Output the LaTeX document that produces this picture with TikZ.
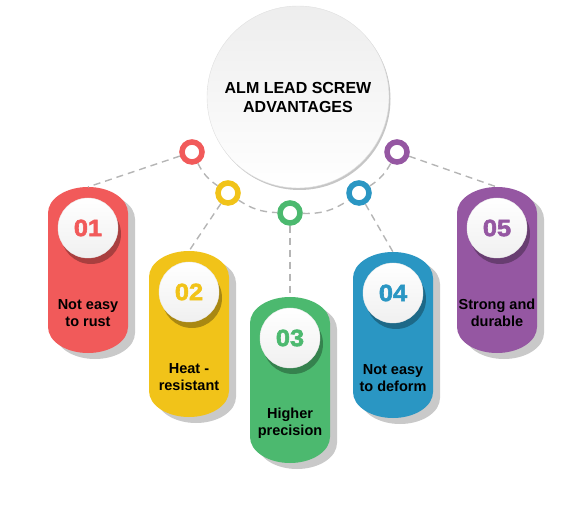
\documentclass[tikz,border=0pt]{standalone}
\usepackage{fontspec}
\setmainfont{Liberation Sans}
\newfontfamily\numfont{Liberation Sans}[BoldFeatures={FakeBold=2.5,FakeStretch=1.08}]
\usepackage{tikz}
\usetikzlibrary{positioning}

\definecolor{cardred}{HTML}{F15A5A}
\definecolor{cardyellow}{HTML}{F1C319}
\definecolor{cardgreen}{HTML}{4CB96F}
\definecolor{cardblue}{HTML}{2A96C3}
\definecolor{cardpurple}{HTML}{9557A2}
\definecolor{cardshadow}{HTML}{C9C9C9}
\definecolor{linkgray}{HTML}{B5B5B5}

% outline of one card: centre x, top y
\newcommand{\cardshape}[2]{({#1-40},{#2-26}) arc[start angle=180,end angle=0,x radius=40,y radius=26] -- ({#1+40},{#2-140}) arc[start angle=0,end angle=-180,x radius=40,y radius=26] -- cycle}

% card: name, centre x, top y, colour, number, text
\newcommand{\card}[6]{%
    \node[cardbox] (#1) at (#2,{#3-83}) {};
    \fill[cardshadow] \cardshape{#2+7}{#3-6};
    \fill[#4] \cardshape{#2}{#3};
    \fill[#4!70!black] ({#2+3},{#3-47}) circle[radius=30];
    \node[numdisc, text=#4] (#1num) at (#2,{#3-41}) {#5};
    \node[cardtext] (#1txt) at (#2,{#3-126}) {#6};
}

\begin{document}
\begin{tikzpicture}[x=1pt, y=1pt,
    cardbox/.style={rectangle, minimum width=80pt, minimum height=166pt, inner sep=0pt, outer sep=0pt},
    numdisc/.style={circle, minimum size=60pt, inner sep=0pt, draw=gray!15,
        top color=white, bottom color=gray!12, font=\numfont\bfseries\fontsize{23.5}{24}\selectfont},
    cardtext/.style={align=center, font=\bfseries\fontsize{14.5}{17}\selectfont},
    hub/.style={circle, minimum size=182pt, draw=gray!25, top color=gray!14, bottom color=white,
        align=center, font=\bfseries\fontsize{16}{19}\selectfont},
    ring/.style={circle, draw=#1, line width=5.5pt, fill=white, minimum size=20pt, inner sep=0pt},
    link/.style={draw=linkgray, line width=1.4pt, dash pattern=on 7pt off 5pt}]

    \useasboundingbox (0,0) rectangle (575,525);

    % centre circle
    \fill[gray!45] (299.5,426) circle[radius=91];
    \node[hub] (hub) at (298,428) {ALM LEAD SCREW\\ADVANTAGES};

    % cards
    \card{card1}{88}{338}{cardred}{01}{Not easy\\to rust}
    \card{card2}{189}{274}{cardyellow}{02}{Heat -\\resistant}
    \card{card3}{290}{228}{cardgreen}{03}{Higher\\precision}
    \card{card4}{393}{273}{cardblue}{04}{Not easy\\to deform}
    \card{card5}{497}{338}{cardpurple}{05}{Strong and\\durable}

    % rings
    \node[ring=cardred] (r1) at (192,373) {};
    \node[ring=cardyellow] (r2) at (228,332) {};
    \node[ring=cardgreen] (r3) at (290,312) {};
    \node[ring=cardblue] (r4) at (359,332) {};
    \node[ring=cardpurple] (r5) at (397,373) {};

    \draw[link] (r1) to[bend right=14] (r2);
    \draw[link] (r2) to[bend right=16] (r3);
    \draw[link] (r3) to[bend right=18] (r4);
    \draw[link] (r4) to[bend right=14] (r5);

    \draw[link] (r1) -- (card1.north);
    \draw[link] (r2) -- (card2.north);
    \draw[link] (r3) -- (card3.north);
    \draw[link] (r4) -- (card4.north);
    \draw[link] (r5) -- (card5.north);

\end{tikzpicture}
\end{document}
